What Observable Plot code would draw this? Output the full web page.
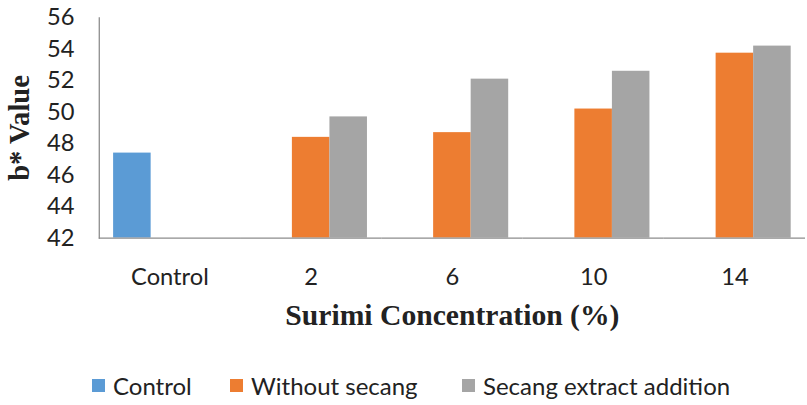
<!DOCTYPE html>
<html>
<head>
<meta charset="utf-8">
<script src="https://cdn.jsdelivr.net/npm/d3@7"></script>
<script src="https://cdn.jsdelivr.net/npm/@observablehq/plot@0.6"></script>
<style>
  body { margin: 0; background: #fff; }
  #chart { width: 807px; overflow: hidden; }
  .legend { position: relative; width: 807px; height: 37px; font: 24px Lato, sans-serif; color: #222; }
  .legend .item { position: absolute; top: 8px; display: flex; align-items: center; gap: 8px; white-space: nowrap; }
  .legend i { width: 13px; height: 13px; display: inline-block; }
</style>
</head>
<body>
<div id="chart"></div>
<div class="legend" id="legend"></div>
<script>
// b* colour value of the surimi samples
const categories = ["Control", "2", "6", "10", "14"];
const seriesNames = ["Control", "Without secang", "Secang extract addition"];
const seriesColors = ["#5B9BD5", "#ED7D31", "#A5A5A5"];
const controlValues = [47.4];
const withoutSecang = [48.4, 48.7, 50.2, 53.75];
const secangExtract = [49.7, 52.1, 52.6, 54.2];
const yTicks = [42, 44, 46, 48, 50, 52, 54, 56];
const legendLeft = [92, 230, 462];

const rows = [{category: categories[0], series: seriesNames[0], value: controlValues[0]}];
categories.slice(1).forEach((c, i) => {
  rows.push({category: c, series: seriesNames[1], value: withoutSecang[i]});
  rows.push({category: c, series: seriesNames[2], value: secangExtract[i]});
});

const sans = "Lato, sans-serif";
const serif = "'Liberation Serif', 'Times New Roman', serif";
const H = 368;

const chart = Plot.plot({
  width: 817,
  height: H,
  marginLeft: 97.5,
  marginRight: 0,
  marginTop: 17.5,
  marginBottom: H - 240.5,
  style: {background: "white", color: "#222"},
  fx: {domain: categories, padding: 0},
  x: {domain: seriesNames, paddingInner: 0, paddingOuter: 0.37, axis: null},
  y: {domain: [42, 56]},
  color: {domain: seriesNames, range: seriesColors},
  marks: [
    Plot.barY(rows, {fx: "category", x: "series", y1: 42, y2: "value", fill: "series"}),
    Plot.ruleY([42], {stroke: "#8c8c8c", strokeWidth: 1.3}),
    Plot.frame({anchor: "left", facetAnchor: "left", stroke: "#8c8c8c", strokeWidth: 1.3}),
    Plot.axisY({ticks: yTicks, tickSize: 0, tickPadding: 25, fontSize: 24, fontFamily: sans, label: null}),
    Plot.axisY({ticks: [], tickSize: 0, label: "b* Value", labelAnchor: "center", labelArrow: "none",
                labelOffset: 92, fontSize: 29, fontWeight: "bold", fontFamily: serif}),
    Plot.axisFx({anchor: "bottom", tickSize: 0, tickPadding: 30, fontSize: 24, fontFamily: sans, label: null}),
    Plot.axisFx({anchor: "bottom", ticks: [], tickSize: 0, label: "Surimi Concentration (%)", labelAnchor: "center",
                 labelOffset: 88, fontSize: 30, fontWeight: "bold", fontFamily: serif})
  ]
});
document.getElementById("chart").append(chart);

const legend = document.getElementById("legend");
seriesNames.forEach((name, i) => {
  const item = document.createElement("span");
  item.className = "item";
  item.style.left = legendLeft[i] + "px";
  const sw = document.createElement("i");
  sw.style.background = seriesColors[i];
  item.append(sw, document.createTextNode(name));
  legend.append(item);
});
</script>
</body>
</html>
